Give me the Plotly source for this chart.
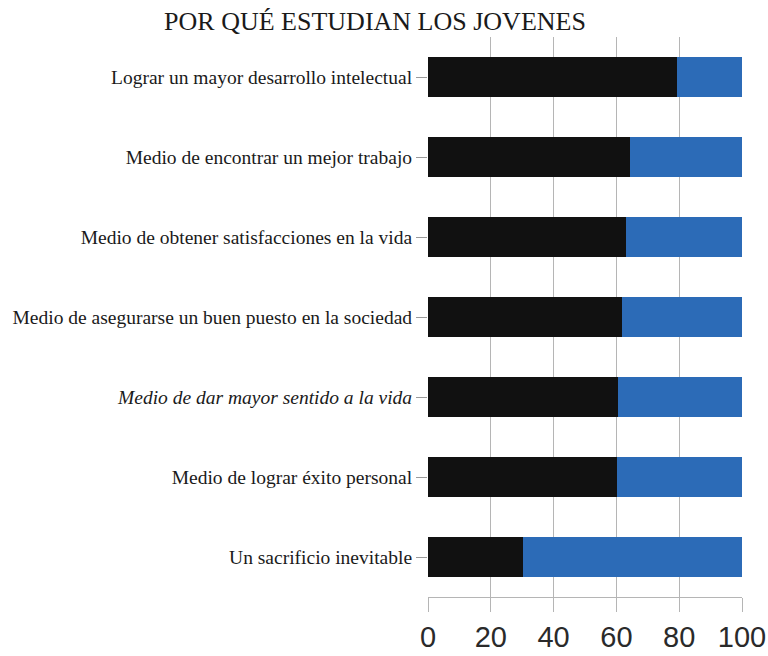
import plotly.graph_objects as go

categories = [
    "Lograr un mayor desarrollo intelectual",
    "Medio de encontrar un mejor trabajo",
    "Medio de obtener satisfacciones en la vida",
    "Medio de asegurarse un buen puesto en la sociedad",
    "Medio de dar mayor sentido a la vida",
    "Medio de lograr éxito personal",
    "Un sacrificio inevitable",
]
tick_labels = [
    "Lograr un mayor desarrollo intelectual",
    "Medio de encontrar un mejor trabajo",
    "Medio de obtener satisfacciones en la vida",
    "Medio de asegurarse un buen puesto en la sociedad",
    "<i>Medio de dar mayor sentido a la vida</i>",
    "Medio de lograr éxito personal",
    "Un sacrificio inevitable",
]
black_values = [79.3, 64.2, 62.9, 61.7, 60.6, 60.1, 30.3]
blue_values = [20.7, 35.8, 37.1, 38.3, 39.4, 39.9, 69.7]
x_ticks = [0, 20, 40, 60, 80, 100]

fig = go.Figure()
fig.add_trace(go.Bar(y=categories, x=black_values, orientation="h",
                     marker=dict(color="#111111", line=dict(width=0)), width=0.5))
fig.add_trace(go.Bar(y=categories, x=blue_values, orientation="h",
                     marker=dict(color="#2c6bb7", line=dict(width=0)), width=0.5))

fig.update_layout(
    barmode="stack",
    width=768, height=656,
    margin=dict(l=428, r=26, t=37, b=59),
    paper_bgcolor="white", plot_bgcolor="white",
    showlegend=False,
    title=dict(text="POR QUÉ ESTUDIAN LOS JOVENES", x=375 / 768, xanchor="center",
               y=1 - 21 / 656, yanchor="middle", yref="container",
               font=dict(family="Liberation Serif", size=26, color="#1a1a1a")),
    xaxis=dict(range=[0, 100], tickvals=x_ticks, showgrid=True, gridcolor="#b5b5b5",
               gridwidth=1, zeroline=False, showline=True, linecolor="#b5b5b5",
               ticks="outside", ticklen=14, tickcolor="#b5b5b5", automargin=False,
               tickfont=dict(family="Liberation Sans", size=29, color="#2a2a2a")),
    yaxis=dict(categoryorder="array", categoryarray=categories, autorange="reversed",
               tickvals=categories, ticktext=tick_labels, automargin=False,
               showgrid=False, zeroline=False, showline=False,
               ticks="outside", ticklen=11, tickcolor="#9a9a9a",
               tickfont=dict(family="Liberation Serif", size=19.5, color="#1a1a1a")),
)

fig.write_html("out.html", config={"displayModeBar": False},
               post_script="document.body.style.margin='0';document.body.style.overflow='hidden';")
